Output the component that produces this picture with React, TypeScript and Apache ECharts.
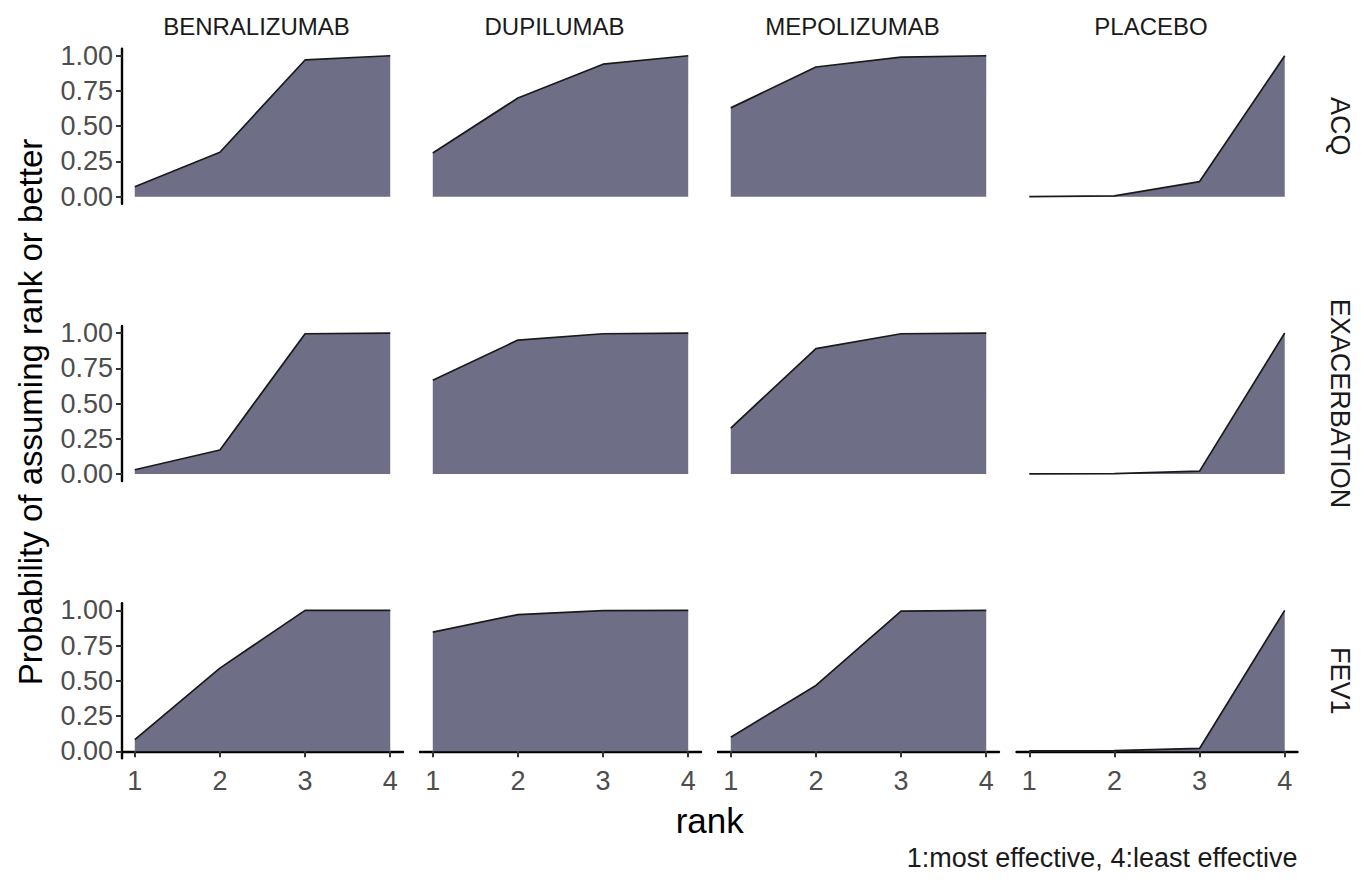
import React, { useEffect, useRef } from "react";
import * as echarts from "echarts";

// ---- data ----
const ranks = [1, 2, 3, 4];
const drugs = ["BENRALIZUMAB", "DUPILUMAB", "MEPOLIZUMAB", "PLACEBO"];
const outcomes = ["ACQ", "EXACERBATION", "FEV1"];
const yTicks = [0, 0.25, 0.5, 0.75, 1];

// cumulative probability by rank, one array per drug (order of `drugs`)
const acqProbs = [
  [0.07, 0.315, 0.97, 1.0],
  [0.31, 0.7, 0.94, 1.0],
  [0.63, 0.92, 0.99, 1.0],
  [0.0, 0.005, 0.107, 1.0],
];
const exacerbationProbs = [
  [0.03, 0.17, 0.995, 1.0],
  [0.665, 0.95, 0.995, 1.0],
  [0.326, 0.89, 0.995, 1.0],
  [0.0, 0.003, 0.02, 1.0],
];
const fev1Probs = [
  [0.083, 0.59, 1.0, 1.0],
  [0.845, 0.97, 0.998, 1.0],
  [0.1, 0.467, 0.995, 1.0],
  [0.003, 0.005, 0.02, 1.0],
];
const allProbs = [acqProbs, exacerbationProbs, fev1Probs];

// ---- layout ----
const W = 1369;
const H = 882;
const colLefts = [122, 420, 718, 1016.5];
const panelW = 281;
const rowTops = [48.7, 326, 603.3];
const panelH = 155;
const FONT = "Liberation Sans, Arial, Helvetica, sans-serif";
const FILL = "#6e6e86";

export default function App() {
  const ref = useRef<HTMLDivElement>(null);
  useEffect(() => {
    document.body.style.margin = "0";
    const chart = echarts.init(ref.current!, null, { renderer: "svg" });
    const grids: any[] = [];
    const xAxes: any[] = [];
    const yAxes: any[] = [];
    const series: any[] = [];
    let idx = 0;
    outcomes.forEach((_, r) => {
      drugs.forEach((__, c) => {
        grids.push({
          left: colLefts[c],
          top: rowTops[r],
          width: panelW,
          height: panelH,
          containLabel: false,
        });
        const bottomRow = r === outcomes.length - 1;
        const leftCol = c === 0;
        xAxes.push({
          type: "value",
          gridIndex: idx,
          min: 0.85,
          max: 4.15,
          show: bottomRow,
          splitLine: { show: false },
          axisLine: { show: true, lineStyle: { color: "#000", width: 2.4 } },
          axisTick: {
            show: true,
            customValues: ranks,
            length: 6,
            lineStyle: { color: "#333", width: 2 },
          },
          axisLabel: {
            show: true,
            customValues: ranks,
            margin: 9,
            color: "#4d4d4d",
            fontSize: 27,
            fontFamily: FONT,
          },
        });
        yAxes.push({
          type: "value",
          gridIndex: idx,
          min: -0.05,
          max: 1.05,
          show: leftCol,
          splitLine: { show: false },
          axisLine: { show: true, lineStyle: { color: "#000", width: 2.4 } },
          axisTick: {
            show: true,
            customValues: yTicks,
            length: 6,
            lineStyle: { color: "#333", width: 2 },
          },
          axisLabel: {
            show: true,
            customValues: yTicks,
            margin: 9,
            color: "#4d4d4d",
            fontSize: 27,
            fontFamily: FONT,
            formatter: (v: number) => v.toFixed(2),
          },
        });
        series.push({
          type: "line",
          xAxisIndex: idx,
          yAxisIndex: idx,
          data: ranks.map((rk, i) => [rk, allProbs[r][c][i]]),
          showSymbol: false,
          symbol: "none",
          lineStyle: { color: "#1a1a1a", width: 1.7 },
          areaStyle: { color: FILL, opacity: 1, origin: 0 },
          silent: true,
        });
        idx++;
      });
    });

    const graphics: any[] = [];
    drugs.forEach((d, c) => {
      graphics.push({
        type: "text",
        x: colLefts[c] + panelW / 2 - 6,
        y: 26,
        style: {
          text: d,
          fontSize: 24,
          fontFamily: FONT,
          fill: "#1a1a1a",
          textAlign: "center",
          textVerticalAlign: "middle",
        },
      });
    });
    outcomes.forEach((o, r) => {
      graphics.push({
        type: "text",
        x: 1340,
        y: rowTops[r] + panelH / 2,
        rotation: -Math.PI / 2,
        style: {
          text: o,
          fontSize: 27,
          fontFamily: FONT,
          fill: "#1a1a1a",
          textAlign: "center",
          textVerticalAlign: "middle",
        },
      });
    });
    graphics.push({
      type: "text",
      x: 30,
      y: 412,
      rotation: Math.PI / 2,
      style: {
        text: "Probability of assuming rank or better",
        fontSize: 33,
        fontFamily: FONT,
        fill: "#000",
        textAlign: "center",
        textVerticalAlign: "middle",
      },
    });
    graphics.push({
      type: "text",
      x: (colLefts[0] + colLefts[3] + panelW) / 2,
      y: 820,
      style: {
        text: "rank",
        fontSize: 35,
        fontFamily: FONT,
        fill: "#000",
        textAlign: "center",
        textVerticalAlign: "middle",
      },
    });
    graphics.push({
      type: "text",
      x: colLefts[3] + panelW,
      y: 858,
      style: {
        text: "1:most effective, 4:least effective",
        fontSize: 27,
        fontFamily: FONT,
        fill: "#1a1a1a",
        textAlign: "right",
        textVerticalAlign: "middle",
      },
    });

    chart.setOption({
      animation: false,
      backgroundColor: "#ffffff",
      grid: grids,
      xAxis: xAxes,
      yAxis: yAxes,
      series,
      graphic: graphics,
    });
    return () => chart.dispose();
  }, []);
  return <div ref={ref} style={{ width: W, height: H }} />;
}
